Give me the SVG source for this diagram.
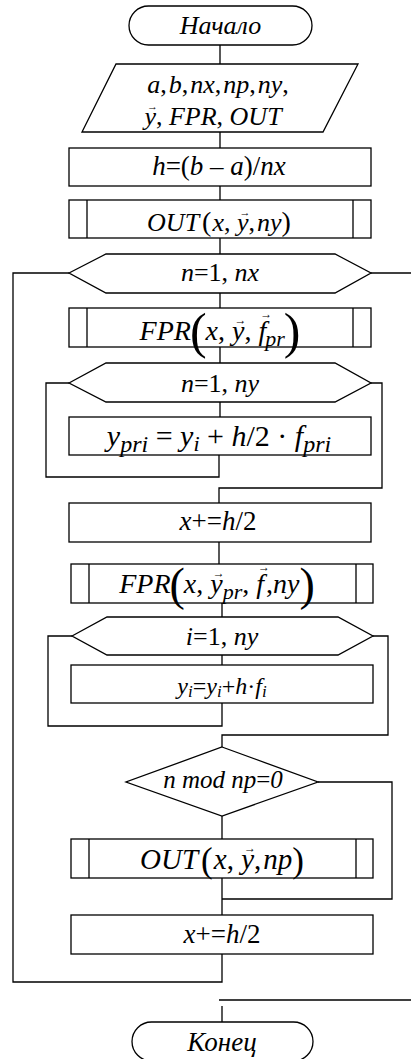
<svg xmlns="http://www.w3.org/2000/svg" width="411" height="1059" viewBox="0 0 411 1059">
<style>
.s{fill:#fff;stroke:#000;stroke-width:1.3}
.c{fill:none;stroke:#000;stroke-width:1.3}
</style>
<rect width="411" height="1059" fill="#fff"/>
<g id="connectors" class="c">
<path d="M220,45V64M220,132V148M220,186V200M220,238V254M220,293V308M220,347V363M220,402V417"/>
<path d="M69,383H46V477H219V455"/>
<path d="M371,383H382V488H219V503"/>
<path d="M219,542V564M222,603V617M222,655V665"/>
<path d="M72,636H48V726H222V703"/>
<path d="M373,636H388V735H222V747"/>
<path d="M222,816V839M318,782H392V899H222M222,878V915"/>
<path d="M222,954V982H13V273H69"/>
<path d="M371,273H411"/>
<path d="M219,1000H411M222,1006V1022"/>
</g>
<g id="start"><rect class="s" x="129" y="6" width="183" height="39" rx="19.5"/><text x="220.5" y="34" font-family="Liberation Serif, serif" font-style="italic" text-anchor="middle" font-size="26">Начало</text></g>
<g id="input"><polygon class="s" points="116,64 358,64 323,132 82,132"/>
<text x="218" y="93" font-family="Liberation Serif, serif" font-style="italic" text-anchor="middle" font-size="26">a<tspan font-style="normal">,</tspan><tspan dx="2">b</tspan><tspan font-style="normal">,</tspan><tspan dx="2">nx</tspan><tspan font-style="normal">,</tspan><tspan dx="2">np</tspan><tspan font-style="normal">,</tspan><tspan dx="2">ny</tspan><tspan font-style="normal">,</tspan></text>
<text x="213" y="125" font-family="Liberation Serif, serif" font-style="italic" text-anchor="middle" font-size="26">y<tspan font-style="normal" font-size="11" dx="-9" dy="-15">→</tspan><tspan font-style="normal" dx="-2" dy="15">,</tspan> FPR<tspan font-style="normal">,</tspan> OUT</text></g>
<g id="step_h"><rect class="s" x="69" y="148" width="302" height="38"/><text x="219" y="175" font-family="Liberation Serif, serif" font-style="italic" text-anchor="middle" font-size="27">h<tspan font-style="normal">=(</tspan>b <tspan font-style="normal">–</tspan> a<tspan font-style="normal">)/</tspan>nx</text></g>
<g id="out1"><rect class="s" x="69" y="200" width="302" height="38"/><path class="c" d="M87,200V238M353,200V238"/>
<text x="219" y="231" font-family="Liberation Serif, serif" font-style="italic" text-anchor="middle" font-size="26">OUT<tspan font-style="normal" dx="3" font-size="28">(</tspan><tspan dx="1">x</tspan><tspan font-style="normal">, </tspan>y<tspan font-style="normal" font-size="11" dx="-9" dy="-15">→</tspan><tspan font-style="normal" dx="-2" dy="15">,</tspan><tspan dx="2">ny</tspan><tspan font-style="normal" font-size="28">)</tspan></text></g>
<g id="loop_n"><polygon class="s" points="69,273 106,254 335,254 371,273 335,293 106,293"/><text x="220" y="281" font-family="Liberation Serif, serif" font-style="italic" text-anchor="middle" font-size="26">n<tspan font-style="normal">=1, </tspan>nx</text></g>
<g id="fpr1"><rect class="s" x="69" y="308" width="302" height="39"/><path class="c" d="M87,308V347M353,308V347"/>
<text x="220" y="340" font-family="Liberation Serif, serif" font-style="italic" text-anchor="middle" font-size="28">FPR<tspan font-style="normal" font-size="50" dy="8" dx="-1">(</tspan><tspan dy="-8" dx="-1">x</tspan><tspan font-style="normal">, </tspan>y<tspan font-style="normal" font-size="12" dx="-10" dy="-16">→</tspan><tspan font-style="normal" dx="-2" dy="16">, </tspan>f<tspan font-style="normal" font-size="12" dx="-6" dy="-22">→</tspan><tspan font-size="22" dx="-7" dy="28">pr</tspan><tspan font-style="normal" font-size="50" dy="2" dx="-1">)</tspan></text></g>
<g id="loop_pr"><polygon class="s" points="69,383 106,363 335,363 371,383 335,402 106,402"/><text x="220" y="392" font-family="Liberation Serif, serif" font-style="italic" text-anchor="middle" font-size="26">n<tspan font-style="normal">=1, </tspan>ny</text></g>
<g id="ypri"><rect class="s" x="69" y="417" width="302" height="38"/>
<text x="219" y="446" font-family="Liberation Serif, serif" font-style="italic" text-anchor="middle" font-size="30">y<tspan font-size="24" dy="6">pri</tspan><tspan font-style="normal" dy="-6"> = </tspan>y<tspan font-size="22" dy="5">i</tspan><tspan font-style="normal" dy="-5"> + </tspan>h<tspan font-style="normal">/2 · </tspan>f<tspan font-size="24" dy="6">pri</tspan></text></g>
<g id="xstep1"><rect class="s" x="69" y="503" width="302" height="39"/><text x="218" y="530" font-family="Liberation Serif, serif" font-style="italic" text-anchor="middle" font-size="27">x<tspan font-style="normal">+=</tspan>h<tspan font-style="normal">/2</tspan></text></g>
<g id="fpr2"><rect class="s" x="71" y="564" width="302" height="39"/><path class="c" d="M89,564V603M356,564V603"/>
<text x="217" y="593" font-family="Liberation Serif, serif" font-style="italic" text-anchor="middle" font-size="28">FPR<tspan font-style="normal" font-size="46" dy="7" dx="-1">(</tspan><tspan dy="-7" dx="-1">x</tspan><tspan font-style="normal">, </tspan>y<tspan font-style="normal" font-size="12" dx="-10" dy="-16">→</tspan><tspan font-size="22" dx="-2" dy="22">pr</tspan><tspan font-style="normal" dy="-6">, </tspan>f<tspan font-style="normal" font-size="12" dx="-6" dy="-22">→</tspan><tspan font-style="normal" dx="-4" dy="22">,</tspan>ny<tspan font-style="normal" font-size="46" dy="7">)</tspan></text></g>
<g id="loop_i"><polygon class="s" points="72,636 107,617 338,617 373,636 338,655 107,655"/><text x="222" y="645" font-family="Liberation Serif, serif" font-style="italic" text-anchor="middle" font-size="26">i<tspan font-style="normal">=1, </tspan>ny</text></g>
<g id="yi"><rect class="s" x="71" y="665" width="302" height="38"/><text x="222" y="694" font-family="Liberation Serif, serif" font-style="italic" text-anchor="middle" font-size="24">y<tspan font-size="17" dy="3">i</tspan><tspan font-style="normal" dy="-3">=</tspan>y<tspan font-size="17" dy="3">i</tspan><tspan font-style="normal" dy="-3">+</tspan>h<tspan font-style="normal">·</tspan>f<tspan font-size="17" dy="3">i</tspan></text></g>
<g id="cond"><polygon class="s" points="222,747 318,782 222,816 126,782"/><text x="223" y="788" font-family="Liberation Serif, serif" font-style="italic" text-anchor="middle" font-size="25">n mod np<tspan font-style="normal">=</tspan>0</text></g>
<g id="out2"><rect class="s" x="71" y="839" width="302" height="39"/><path class="c" d="M89,839V878M356,839V878"/>
<text x="222" y="869" font-family="Liberation Serif, serif" font-style="italic" text-anchor="middle" font-size="29">OUT<tspan font-style="normal" font-size="35" dy="3" dx="3">(</tspan><tspan dy="-3" dx="1">x</tspan><tspan font-style="normal">, </tspan>y<tspan font-style="normal" font-size="12" dx="-10" dy="-17">→</tspan><tspan font-style="normal" dx="-2" dy="17">,</tspan><tspan dx="2">np</tspan><tspan font-style="normal" font-size="35" dy="3">)</tspan></text></g>
<g id="xstep2"><rect class="s" x="71" y="915" width="302" height="39"/><text x="222" y="943" font-family="Liberation Serif, serif" font-style="italic" text-anchor="middle" font-size="27">x<tspan font-style="normal">+=</tspan>h<tspan font-style="normal">/2</tspan></text></g>
<g id="end"><rect class="s" x="132" y="1022" width="181" height="39" rx="19.5"/><text x="222" y="1051" font-family="Liberation Serif, serif" font-style="italic" text-anchor="middle" font-size="27">Конец</text></g>
</svg>
